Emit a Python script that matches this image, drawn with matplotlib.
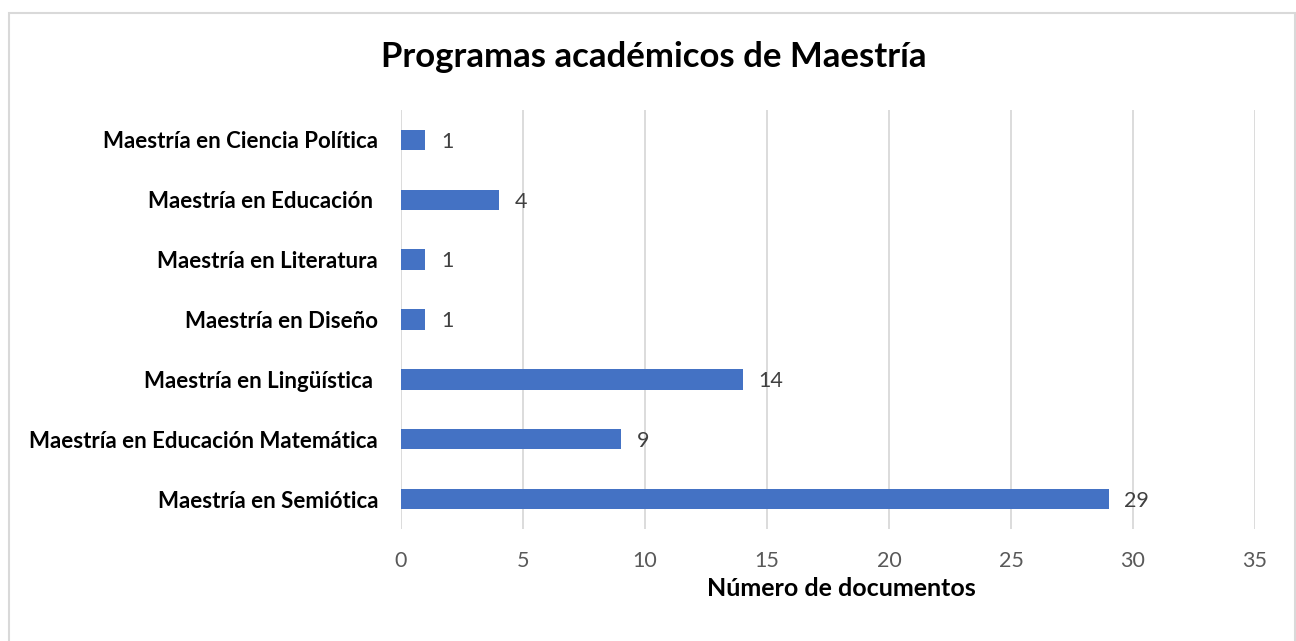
import matplotlib
matplotlib.use("Agg")
import matplotlib.pyplot as plt
from matplotlib.patches import Rectangle

plt.rcParams['font.family'] = ['Lato', 'DejaVu Sans']

# data (top to bottom as shown)
programas = ["Maestría en Ciencia Política", "Maestría en Educación ",
             "Maestría en Literatura", "Maestría en Diseño",
             "Maestría en Lingüística ", "Maestría en Educación Matemática",
             "Maestría en Semiótica"]
documentos = [1, 4, 1, 1, 14, 9, 29]
xticks = [0, 5, 10, 15, 20, 25, 30, 35]

W, H = 1296, 641
fig = plt.figure(figsize=(W / 100, H / 100), dpi=100)
ax = fig.add_axes([401 / W, 1 - 529 / H, (1255 - 401) / W, (529 - 110) / H])

# border around chart area
fig.patches.append(Rectangle((8.5 / W, -0.1), (1294.5 - 8.5) / W, 1.1 - 12.5 / H,
                             transform=fig.transFigure, fill=False,
                             edgecolor="#D9D9D9", linewidth=1.5))

ypos = list(range(len(programas)))[::-1]
ax.barh(ypos, documentos, height=0.34, color="#4472C4", zorder=3)

for y, v in zip(ypos, documentos):
    ax.text(v + 0.65, y - 0.03, str(v), va="center", ha="left",
            fontsize=15.5, color="#404040")

ax.set_xlim(0, 35)
ax.set_ylim(-0.5, len(programas) - 0.5)
ax.set_xticks(xticks)
ax.set_yticks(ypos)
ax.set_yticklabels(programas, fontsize=16, fontweight="bold", color="black")
ax.tick_params(axis="x", labelsize=15.5, colors="#595959", length=0, pad=16)
ax.tick_params(axis="y", length=0, pad=16.5)
ax.grid(axis="x", color="#D9D9D9", linewidth=1.3, zorder=0)
for s in ax.spines.values():
    s.set_visible(False)

fig.text(841 / W, 1 - 589 / H, "Número de documentos", ha="center",
         va="center", fontsize=18, fontweight="bold")
fig.text(654 / W, 1 - 57 / H, "Programas académicos de Maestría",
         ha="center", va="center", fontsize=25, fontweight="bold")

fig.savefig("out.png", dpi=100, facecolor="white")
